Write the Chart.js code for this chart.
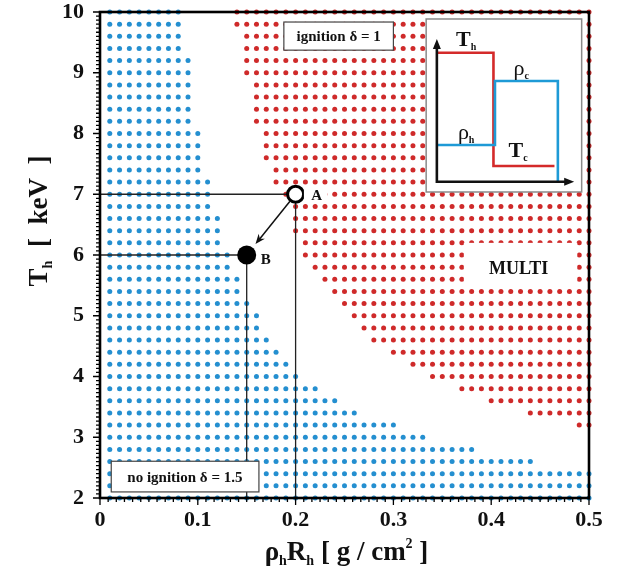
<!DOCTYPE html>
<html>
<head>
<meta charset="utf-8">
<script src="https://cdn.jsdelivr.net/npm/chart.js@4/dist/chart.umd.min.js"></script>
<style>
html,body{margin:0;padding:0;background:#fff;}
canvas{display:block;}
</style>
</head>
<body>
<canvas id="c" width="619" height="570"></canvas>
<script>
// ---- data ----
// rows of the simulation grid (hot-spot temperature, keV)
const T_rows = [10.0, 9.8, 9.6, 9.4, 9.2, 9.0, 8.8, 8.6, 8.4, 8.2,
                8.0, 7.8, 7.6, 7.4, 7.2, 7.0, 6.8, 6.6, 6.4, 6.2,
                6.0, 5.8, 5.6, 5.4, 5.2, 5.0, 4.8, 4.6, 4.4, 4.2,
                4.0, 3.8, 3.6, 3.4, 3.2, 3.0, 2.8, 2.6, 2.4, 2.2, 2.0];
// columns of the grid (rho_h R_h, g/cm^2)
const rhoCols = [0.01,0.02,0.03,0.04,0.05,0.06,0.07,0.08,0.09,0.10,
                 0.11,0.12,0.13,0.14,0.15,0.16,0.17,0.18,0.19,0.20,
                 0.21,0.22,0.23,0.24,0.25,0.26,0.27,0.28,0.29,0.30,
                 0.31,0.32,0.33,0.34,0.35,0.36,0.37,0.38,0.39,0.40,
                 0.41,0.42,0.43,0.44,0.45,0.46,0.47,0.48,0.49,0.50];
// per row: largest rho with no ignition (blue), smallest rho with ignition (red)
const noIgnitionMaxRho = [0.08,0.08,0.08,0.08,0.09,0.09,0.09,0.09,0.09,0.09,
                          0.10,0.10,0.10,0.10,0.11,0.11,0.11,0.12,0.12,0.12,
                          0.13,0.13,0.14,0.14,0.15,0.16,0.16,0.17,0.18,0.19,
                          0.20,0.22,0.24,0.26,0.30,0.33,0.38,0.44,0.50,0.50,0.50];
const ignitionMinRho   = [0.14,0.14,0.15,0.15,0.15,0.15,0.16,0.16,0.16,0.16,
                          0.17,0.17,0.17,0.18,0.18,0.19,0.20,0.20,0.20,0.21,
                          0.21,0.22,0.23,0.24,0.25,0.26,0.27,0.28,0.30,0.32,
                          0.34,0.37,0.40,0.44,0.49,null,null,null,null,null,null];
const xTickValues = [0, 0.1, 0.2, 0.3, 0.4, 0.5];
const yTickValues = [2, 3, 4, 5, 6, 7, 8, 9, 10];
const pointA = {rho: 0.20, T: 7};
const pointB = {rho: 0.15, T: 6};

// ---- build point lists from the tables ----
const bluePts = [], redPts = [];
T_rows.forEach((T, i) => {
  rhoCols.forEach(r => {
    if (r <= noIgnitionMaxRho[i] + 1e-9) bluePts.push({x: r, y: T});
    if (ignitionMinRho[i] !== null && r >= ignitionMinRho[i] - 1e-9) redPts.push({x: r, y: T});
  });
});

const SERIF = '"Liberation Serif", "Times New Roman", serif';

function drawRich(ctx, parts, x, y, align) {
  let w = 0;
  parts.forEach(p => {
    ctx.font = `${p.w || 'bold'} ${p.s}px ${SERIF}`;
    p.width = ctx.measureText(p.t).width;
    w += p.width;
  });
  let cx = align === 'center' ? x - w / 2 : x;
  ctx.textAlign = 'left';
  ctx.textBaseline = 'alphabetic';
  parts.forEach(p => {
    ctx.font = `${p.w || 'bold'} ${p.s}px ${SERIF}`;
    ctx.fillText(p.t, cx, y + (p.dy || 0));
    cx += p.width;
  });
}

function whiteBox(ctx, x1, y1, x2, y2, stroke, lw) {
  ctx.fillStyle = '#fff';
  ctx.fillRect(x1, y1, x2 - x1, y2 - y1);
  if (stroke) {
    ctx.strokeStyle = stroke;
    ctx.lineWidth = lw || 1;
    ctx.strokeRect(x1, y1, x2 - x1, y2 - y1);
  }
}

const overlay = {
  id: 'overlay',
  afterDatasetsDraw(chart) {
    const {ctx, chartArea: a, scales: {x, y}} = chart;
    const X = v => x.getPixelForValue(v);
    const Y = v => y.getPixelForValue(v);
    ctx.save();

    // arrow A -> B
    const ax = X(pointA.rho), ay = Y(pointA.T), bx = X(pointB.rho), by = Y(pointB.T);
    const dx = bx - ax, dy = by - ay, L = Math.hypot(dx, dy), ux = dx / L, uy = dy / L;
    const sx = ax + ux * 9, sy = ay + uy * 9, ex = bx - ux * 14, ey = by - uy * 14;
    ctx.strokeStyle = '#111'; ctx.lineWidth = 1.5;
    ctx.beginPath(); ctx.moveTo(sx, sy); ctx.lineTo(ex - ux * 6, ey - uy * 6); ctx.stroke();
    ctx.fillStyle = '#111';
    ctx.beginPath();
    ctx.moveTo(ex, ey);
    ctx.lineTo(ex - ux * 10 - uy * 4, ey - uy * 10 + ux * 4);
    ctx.lineTo(ex - ux * 7, ey - uy * 7);
    ctx.lineTo(ex - ux * 10 + uy * 4, ey - uy * 10 - ux * 4);
    ctx.closePath(); ctx.fill();

    // labels A, B
    whiteBox(ctx, X(0.2085), Y(7.08), X(0.2325), Y(6.92));
    ctx.fillStyle = '#111';
    drawRich(ctx, [{t: 'A', s: 15}], X(0.2215), Y(6.99) + 5.5, 'center');
    drawRich(ctx, [{t: 'B', s: 15}], X(0.1695), Y(5.94) + 5.5, 'center');

    // ignition box
    whiteBox(ctx, X(0.188), Y(9.835), X(0.300), Y(9.372), '#444', 1.2);
    ctx.fillStyle = '#111';
    drawRich(ctx, [{t: 'ignition δ = 1', s: 15}], X(0.244), Y(9.605) + 5, 'center');

    // no ignition box
    whiteBox(ctx, X(0.0115), Y(2.605), X(0.1625), Y(2.10), '#444', 1.2);
    ctx.fillStyle = '#111';
    drawRich(ctx, [{t: 'no ignition δ = 1.5', s: 15}], X(0.0868), Y(2.352) + 5, 'center');

    // MULTI label
    whiteBox(ctx, X(0.372), Y(6.20), X(0.488), Y(5.457));
    ctx.fillStyle = '#111';
    drawRich(ctx, [{t: 'MULTI', s: 18}], X(0.428), Y(5.80) + 6.5, 'center');

    // inset
    const ix = X(0.3335), iy = Y(9.885), ix2 = X(0.4925), iy2 = Y(7.037);
    whiteBox(ctx, ix, iy, ix2, iy2, '#8a8a8a', 1.5);
    const P = (px, py) => [ix + px, iy + py];
    // T profile (red)
    ctx.lineJoin = 'miter';
    ctx.strokeStyle = '#d42a2a'; ctx.lineWidth = 2.6;
    ctx.beginPath();
    ctx.moveTo(...P(10.7, 33.7)); ctx.lineTo(...P(67.3, 33.7));
    ctx.lineTo(...P(67.3, 147)); ctx.lineTo(...P(128.3, 147));
    ctx.stroke();
    // rho profile (blue)
    ctx.strokeStyle = '#1e9ad6';
    ctx.beginPath();
    ctx.moveTo(...P(10.7, 126)); ctx.lineTo(...P(68.8, 126));
    ctx.lineTo(...P(68.8, 62)); ctx.lineTo(...P(131.7, 62));
    ctx.lineTo(...P(131.7, 162.7));
    ctx.stroke();
    // inset axes
    ctx.strokeStyle = '#111'; ctx.lineWidth = 2.6; ctx.lineJoin = 'miter';
    ctx.beginPath();
    ctx.moveTo(...P(10.7, 27)); ctx.lineTo(...P(10.7, 162.7)); ctx.lineTo(...P(141, 162.7));
    ctx.stroke();
    ctx.fillStyle = '#111';
    ctx.beginPath();
    ctx.moveTo(...P(10.7, 20)); ctx.lineTo(...P(6.7, 30)); ctx.lineTo(...P(14.7, 30)); ctx.closePath(); ctx.fill();
    ctx.beginPath();
    ctx.moveTo(...P(148, 162.7)); ctx.lineTo(...P(138, 158.7)); ctx.lineTo(...P(138, 166.7)); ctx.closePath(); ctx.fill();
    // inset labels
    ctx.fillStyle = '#111';
    let q = P(40, 27);
    drawRich(ctx, [{t: 'T', s: 22}, {t: 'h', s: 10, dy: 4}], q[0], q[1], 'center');
    q = P(95, 56);
    drawRich(ctx, [{t: 'ρ', s: 22, w: 'normal'}, {t: 'c', s: 10, dy: 4}], q[0], q[1], 'center');
    q = P(40, 120);
    drawRich(ctx, [{t: 'ρ', s: 22, w: 'normal'}, {t: 'h', s: 10, dy: 4}], q[0], q[1], 'center');
    q = P(92, 138);
    drawRich(ctx, [{t: 'T', s: 22}, {t: 'c', s: 10, dy: 4}], q[0], q[1], 'center');

    // frame
    ctx.strokeStyle = '#000'; ctx.lineWidth = 2.6;
    ctx.strokeRect(a.left, a.top, a.right - a.left, a.bottom - a.top);

    // ticks
    ctx.lineWidth = 1.3; ctx.strokeStyle = '#000';
    ctx.beginPath();
    for (let k = 0; k <= 8 * 15; k++) {
      const py = Y(2 + k / 15);
      const major = k % 15 === 0;
      ctx.moveTo(a.left, py); ctx.lineTo(a.left - (major ? 7 : 4), py);
    }
    for (let k = 0; k <= 5 * 12; k++) {
      const px = X(k / 120);
      const major = k % 12 === 0;
      ctx.moveTo(px, a.bottom); ctx.lineTo(px, a.bottom + (major ? 7 : 4));
    }
    ctx.stroke();

    // axis titles
    ctx.fillStyle = '#111';
    drawRich(ctx, [{t: 'ρ', s: 27}, {t: 'h', s: 14, dy: 5}, {t: 'R', s: 27}, {t: 'h', s: 14, dy: 5},
                   {t: ' [ g / cm', s: 27}, {t: '2', s: 14, dy: -12}, {t: ' ]', s: 27}],
             (a.left + a.right) / 2 + 2, 560, 'center');
    ctx.save();
    ctx.translate(47, 221);
    ctx.rotate(-Math.PI / 2);
    drawRich(ctx, [{t: 'T', s: 27}, {t: 'h', s: 14, dy: 5}, {t: '  [  keV  ]', s: 27}], 0, 0, 'center');
    ctx.restore();

    ctx.restore();
  }
};

const tickFont = {family: SERIF, size: 22, weight: 'bold'};

new Chart(document.getElementById('c'), {
  type: 'scatter',
  data: {
    datasets: [
      {label: 'no ignition', data: bluePts, pointRadius: 2.5, pointBackgroundColor: '#248fd0', pointBorderWidth: 0, clip: false, order: 5},
      {label: 'ignition', data: redPts, pointRadius: 2.5, pointBackgroundColor: '#cf2a2a', pointBorderWidth: 0, clip: false, order: 5},
      {label: 'A guide', data: [{x: 0, y: pointA.T}, {x: pointA.rho, y: pointA.T}, {x: pointA.rho, y: 2}],
       showLine: true, pointRadius: 0, borderColor: '#222', borderWidth: 1.3, order: 3},
      {label: 'B guide', data: [{x: 0, y: pointB.T}, {x: pointB.rho, y: pointB.T}, {x: pointB.rho, y: 2}],
       showLine: true, pointRadius: 0, borderColor: '#222', borderWidth: 1.3, order: 3},
      {label: 'A', data: [{x: pointA.rho, y: pointA.T}], pointRadius: 8, pointBackgroundColor: '#fff',
       pointBorderColor: '#000', pointBorderWidth: 3, clip: false, order: 1},
      {label: 'B', data: [{x: pointB.rho, y: pointB.T}], pointRadius: 9.5, pointBackgroundColor: '#000',
       pointBorderColor: '#000', pointBorderWidth: 0, clip: false, order: 1}
    ]
  },
  options: {
    responsive: false,
    devicePixelRatio: 1,
    animation: false,
    layout: {padding: {top: 12, right: 30, left: 0, bottom: 0}},
    plugins: {legend: {display: false}, tooltip: {enabled: false}},
    scales: {
      x: {
        type: 'linear', min: 0, max: 0.5,
        afterBuildTicks: s => { s.ticks = xTickValues.map(v => ({value: v})); },
        afterFit: s => { s.height = 72; s.paddingLeft = 0; s.paddingRight = 0; },
        ticks: {font: tickFont, color: '#111', padding: 9, maxRotation: 0,
                callback: v => (v === 0 ? '0' : String(+v.toFixed(1)))},
        grid: {display: false, drawTicks: false},
        border: {display: false}
      },
      y: {
        type: 'linear', min: 2, max: 10,
        afterBuildTicks: s => { s.ticks = yTickValues.map(v => ({value: v})); },
        afterFit: s => { s.width = 100; s.paddingTop = 0; s.paddingBottom = 0; },
        ticks: {font: tickFont, color: '#111', padding: 16, callback: v => String(v)},
        grid: {display: false, drawTicks: false},
        border: {display: false}
      }
    }
  },
  plugins: [overlay]
});
</script>
</body>
</html>
